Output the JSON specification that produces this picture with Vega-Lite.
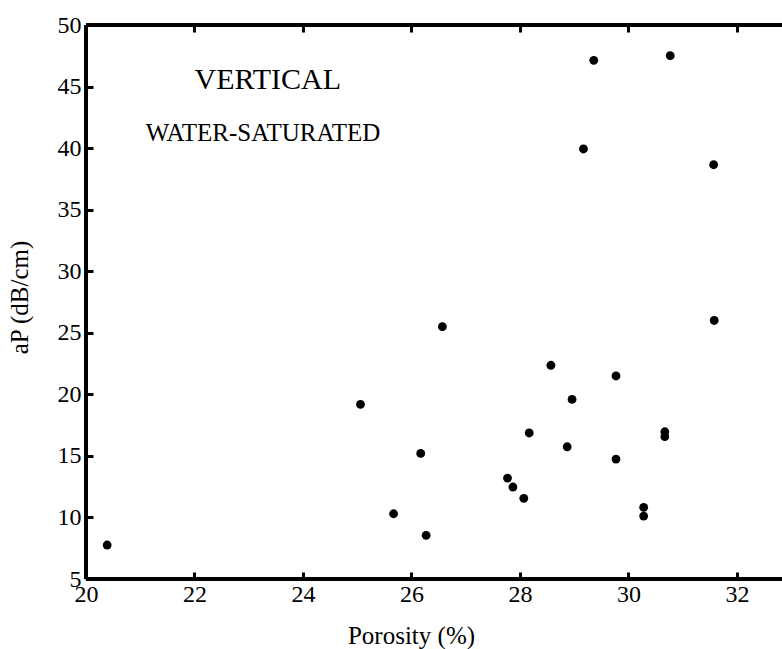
{
  "$schema": "https://vega.github.io/schema/vega-lite/v6.json",
  "width": 696,
  "height": 554,
  "autosize": "none",
  "padding": {"left": 86, "top": 25, "right": 0, "bottom": 70},
  "background": "white",
  "config": {
    "view": {"stroke": null},
    "font": "Liberation Serif"
  },
  "resolve": {"axis": {"x": "independent", "y": "independent"}},
  "datasets": {
    "pts": [
      {"porosity": 20.39, "ap": 7.76},
      {"porosity": 25.06, "ap": 19.19},
      {"porosity": 25.67, "ap": 10.30},
      {"porosity": 26.17, "ap": 15.20},
      {"porosity": 26.27, "ap": 8.55},
      {"porosity": 26.57, "ap": 25.49},
      {"porosity": 27.77, "ap": 13.20},
      {"porosity": 27.87, "ap": 12.47},
      {"porosity": 28.07, "ap": 11.55},
      {"porosity": 28.17, "ap": 16.86},
      {"porosity": 28.57, "ap": 22.36},
      {"porosity": 28.87, "ap": 15.74},
      {"porosity": 28.96, "ap": 19.59},
      {"porosity": 29.17, "ap": 39.93},
      {"porosity": 29.36, "ap": 47.13},
      {"porosity": 29.77, "ap": 21.49},
      {"porosity": 29.77, "ap": 14.74},
      {"porosity": 30.28, "ap": 10.82},
      {"porosity": 30.28, "ap": 10.11},
      {"porosity": 30.67, "ap": 16.96},
      {"porosity": 30.67, "ap": 16.56},
      {"porosity": 30.77, "ap": 47.51},
      {"porosity": 31.57, "ap": 38.65},
      {"porosity": 31.58, "ap": 26.0}
    ],
    "labels": [
      {"porosity": 23.35, "ap": 44.8, "text": "VERTICAL", "kind": "big"},
      {"porosity": 21.1, "ap": 40.58, "text": "WATER-SATURATED", "kind": "small"}
    ],
    "one": [{"k": 1}]
  },
  "layer": [
    {
      "data": {"name": "pts"},
      "mark": {"type": "point", "filled": true, "shape": "circle", "size": 78, "color": "black", "opacity": 1},
      "encoding": {
        "x": {
          "field": "porosity", "type": "quantitative",
          "scale": {"domain": [20, 32.83], "nice": false, "zero": false},
          "axis": {
            "orient": "bottom",
            "title": "Porosity (%)",
            "values": [22, 24, 26, 28, 30, 32, 20],
            "grid": false,
            "domain": false,
            "tickColor": "black", "tickWidth": 3, "tickSize": -7,
            "labelFont": "Liberation Serif", "labelFontSize": 24, "labelColor": "black",
            "labelPadding": 10, "labelFlush": false,
            "titleFont": "Liberation Serif", "titleFontSize": 25, "titleFontWeight": "normal", "titleColor": "black",
            "titleX": 325, "titleY": 64, "titleBaseline": "alphabetic"
          }
        },
        "y": {
          "field": "ap", "type": "quantitative",
          "scale": {"domain": [5, 50], "nice": false, "zero": false},
          "axis": {
            "title": "aP (dB/cm)",
            "values": [5, 10, 15, 20, 25, 30, 35, 40, 45, 50],
            "grid": false,
            "domain": false,
            "tickColor": "black", "tickWidth": 3, "tickSize": -7,
            "labelFont": "Liberation Serif", "labelFontSize": 24, "labelColor": "black",
            "labelPadding": 12, "labelFlush": false,
            "titleFont": "Liberation Serif", "titleFontSize": 25, "titleFontWeight": "normal", "titleColor": "black",
            "titleX": -54, "titleY": 272
          }
        }
      }
    },
    {
      "data": {"name": "pts"},
      "mark": {"type": "point", "opacity": 0},
      "encoding": {
        "x": {"field": "porosity", "type": "quantitative", "axis": {"orient": "top", "values": [22, 24, 26, 28, 30, 32], "labels": false, "title": null, "grid": false, "domain": false, "tickColor": "black", "tickWidth": 3, "tickSize": -7}},
        "y": {"field": "ap", "type": "quantitative", "axis": null}
      }
    },
    {
      "data": {"name": "one"},
      "mark": {"type": "rule", "color": "black", "strokeWidth": 4},
      "encoding": {"y": {"datum": 50, "type": "quantitative", "axis": null}}
    },
    {
      "data": {"name": "one"},
      "mark": {"type": "rule", "color": "black", "strokeWidth": 4},
      "encoding": {"y": {"datum": 5, "type": "quantitative", "axis": null}}
    },
    {
      "data": {"name": "one"},
      "mark": {"type": "rule", "color": "black", "strokeWidth": 4},
      "encoding": {"x": {"datum": 20, "type": "quantitative", "axis": null}}
    },
    {
      "data": {"name": "labels"},
      "transform": [{"filter": "datum.kind === 'big'"}],
      "mark": {"type": "text", "font": "Liberation Serif", "fontSize": 30, "align": "center", "baseline": "alphabetic", "color": "black"},
      "encoding": {
        "x": {"field": "porosity", "type": "quantitative", "axis": null},
        "y": {"field": "ap", "type": "quantitative", "axis": null},
        "text": {"field": "text"}
      }
    },
    {
      "data": {"name": "labels"},
      "transform": [{"filter": "datum.kind === 'small'"}],
      "mark": {"type": "text", "font": "Liberation Serif", "fontSize": 25, "align": "left", "baseline": "alphabetic", "color": "black"},
      "encoding": {
        "x": {"field": "porosity", "type": "quantitative", "axis": null},
        "y": {"field": "ap", "type": "quantitative", "axis": null},
        "text": {"field": "text"}
      }
    }
  ]
}
